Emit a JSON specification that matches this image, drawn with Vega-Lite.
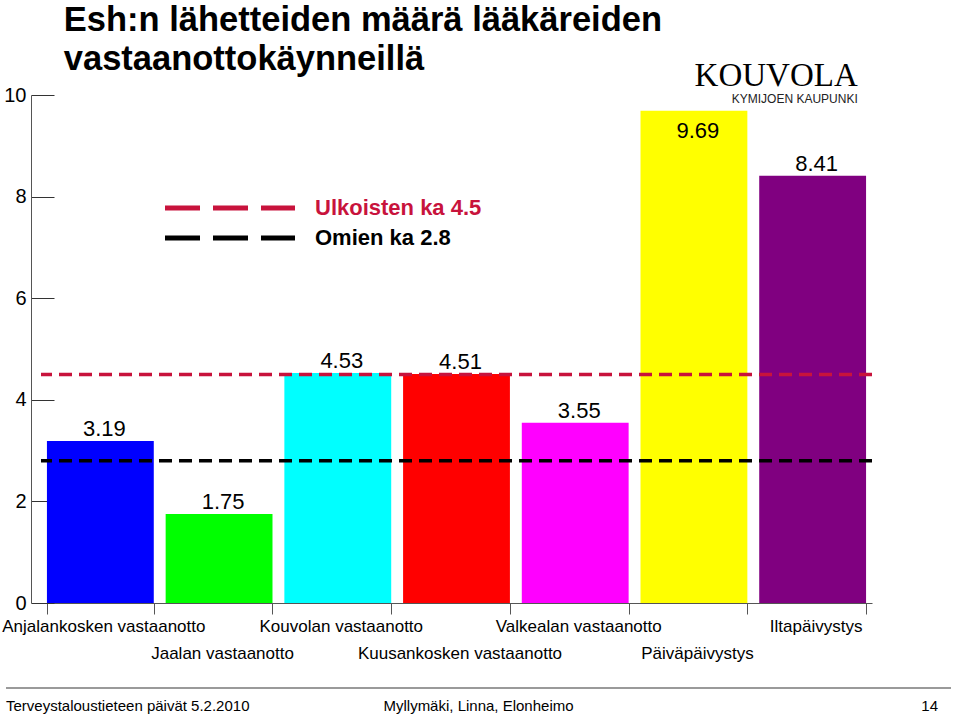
{
  "$schema": "https://vega.github.io/schema/vega-lite/v6.json",
  "background": "white",
  "padding": {"left": 1, "top": 2, "right": 5, "bottom": 0},
  "autosize": {"type": "pad"},
  "title": {
    "text": ["Esh:n lähetteiden määrä lääkäreiden", "vastaanottokäynneillä"],
    "anchor": "start",
    "frame": "bounds",
    "font": "Liberation Sans",
    "fontSize": 34.5,
    "fontWeight": "bold",
    "color": "black",
    "lineHeight": 39,
    "dx": 62,
    "offset": -17
  },
  "config": {
    "font": "Liberation Sans",
    "view": {"stroke": null}
  },
  "spacing": 17,
  "datasets": {
    "bars": [
      {"cat": "Anjalankosken vastaanotto", "value": 3.19},
      {"cat": "Jaalan vastaanotto", "value": 1.75},
      {"cat": "Kouvolan vastaanotto", "value": 4.53},
      {"cat": "Kuusankosken vastaanotto", "value": 4.51},
      {"cat": "Valkealan vastaanotto", "value": 3.55},
      {"cat": "Päiväpäivystys", "value": 9.69},
      {"cat": "Iltapäivystys", "value": 8.41}
    ],
    "refs": [
      {"series": "Ulkoisten ka 4.5", "value": 4.5},
      {"series": "Omien ka 2.8", "value": 2.8}
    ],
    "footer": [
      {"slot": "vasen", "text": "Terveystaloustieteen päivät 5.2.2010"},
      {"slot": "keski", "text": "Myllymäki, Linna, Elonheimo"},
      {"slot": "oikea", "text": "14"}
    ]
  },
  "vconcat": [
    {
      "width": 831,
      "height": 508,
      "title": {
        "text": "KOUVOLA",
        "subtitle": "KYMIJOEN KAUPUNKI",
        "anchor": "end",
        "font": "Liberation Serif",
        "fontSize": 33,
        "fontWeight": "normal",
        "color": "black",
        "subtitleFont": "Liberation Sans",
        "subtitleFontSize": 12,
        "subtitleColor": "#222",
        "subtitlePadding": 1,
        "offset": -20,
        "dx": -16
      },
      "layer": [
        {
          "data": {"name": "bars"},
          "mark": {"type": "bar"},
          "encoding": {
            "x": {
              "field": "cat",
              "type": "nominal",
              "sort": null,
              "scale": {"paddingInner": 0.1, "paddingOuter": 0.05},
              "axis": {
                "title": null,
                "labelAngle": 0,
                "labelFontSize": 17,
                "labelColor": "black",
                "labelOverlap": false,
                "labelLimit": 0,
                "labelBound": false,
                "labelOffset": 3,
                "labelPadding": {
                  "condition": {"test": "indexof(['Jaalan vastaanotto', 'Kuusankosken vastaanotto', 'Päiväpäivystys'], datum.value) >= 0", "value": 31},
                  "value": 4
                },
                "domainColor": "#555",
                "tickColor": "#555",
                "tickBand": "extent",
                "tickSize": 11
              }
            },
            "y": {
              "field": "value",
              "type": "quantitative",
              "scale": {"domain": [0, 10], "nice": false},
              "axis": {
                "title": null,
                "values": [0, 2, 4, 6, 8, 10],
                "grid": false,
                "offset": 10,
                "tickSize": -23,
                "labelPadding": 28,
                "labelFontSize": 20,
                "labelColor": "black",
                "domainColor": "#555",
                "tickColor": "#333"
              }
            },
            "fill": {
              "field": "cat",
              "type": "nominal",
              "sort": null,
              "scale": {
                "domain": ["Anjalankosken vastaanotto", "Jaalan vastaanotto", "Kouvolan vastaanotto", "Kuusankosken vastaanotto", "Valkealan vastaanotto", "Päiväpäivystys", "Iltapäivystys"],
                "range": ["#0000ff", "#00ff00", "#00ffff", "#ff0000", "#ff00ff", "#ffff00", "#800080"]
              },
              "legend": null
            }
          }
        },
        {
          "data": {"name": "bars"},
          "mark": {
            "type": "text",
            "fontSize": 22,
            "baseline": "alphabetic",
            "dx": 4,
            "dy": {"expr": "datum.value > 9 ? 27 : -5"},
            "color": "black"
          },
          "encoding": {
            "x": {"field": "cat", "type": "nominal", "sort": null},
            "y": {"field": "value", "type": "quantitative"},
            "text": {"field": "value", "type": "quantitative", "format": ".2f"}
          }
        },
        {
          "data": {"name": "refs"},
          "mark": {"type": "rule", "strokeDash": [13, 7], "strokeWidth": 3.5},
          "encoding": {
            "y": {"field": "value", "type": "quantitative"},
            "stroke": {
              "field": "series",
              "type": "nominal",
              "sort": null,
              "scale": {"domain": ["Ulkoisten ka 4.5", "Omien ka 2.8"], "range": ["#c8133c", "#000000"]},
              "legend": {
                "title": null,
                "orient": "none",
                "legendX": 178,
                "legendY": 102,
                "symbolType": "M-10,0H10",
                "symbolSize": 169,
                "symbolStrokeWidth": 5,
                "symbolDash": [35, 13],
                "labelFontSize": 22,
                "labelFontWeight": "bold",
                "labelOffset": 74,
                "labelLimit": 0,
                "rowPadding": 8,
                "encode": {
                  "labels": {
                    "update": {
                      "fill": {"signal": "datum.value == 'Ulkoisten ka 4.5' ? '#c8133c' : '#000000'"}
                    }
                  }
                }
              }
            }
          }
        }
      ]
    },
    {
      "width": 910,
      "height": 0,
      "data": {"name": "footer"},
      "layer": [
        {
          "mark": {"type": "rule", "color": "#999", "strokeWidth": 1.5},
          "encoding": {
            "x": {"datum": "vasen", "type": "nominal", "scale": {"type": "point", "padding": 0, "domain": ["vasen", "keski", "oikea"], "range": [-35, 910]}, "axis": null},
            "x2": {"datum": "oikea"}
          }
        },
        {
          "mark": {
            "type": "text",
            "fontSize": 15,
            "baseline": "middle",
            "dy": 18,
            "color": "black",
            "align": {"expr": "datum.slot == 'vasen' ? 'left' : datum.slot == 'oikea' ? 'right' : 'center'"},
            "dx": {"expr": "datum.slot == 'oikea' ? -13 : 0"}
          },
          "encoding": {
            "x": {"field": "slot", "type": "nominal", "sort": null},
            "text": {"field": "text"}
          }
        }
      ]
    }
  ]
}
